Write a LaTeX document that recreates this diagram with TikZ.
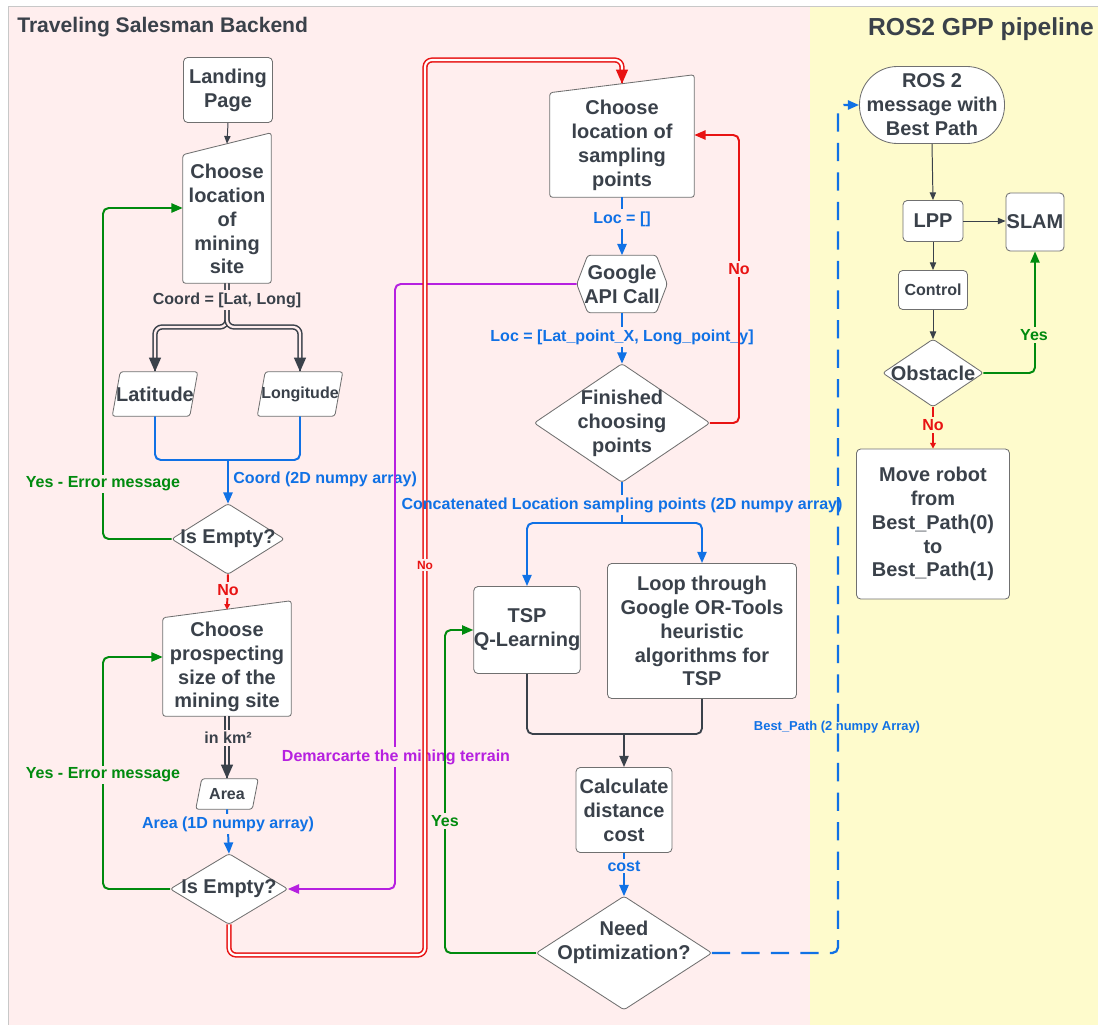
\documentclass[tikz,border=0pt]{standalone}
\usepackage{fontspec}
\setmainfont{Liberation Sans}
\usetikzlibrary{arrows.meta, calc, backgrounds}
\definecolor{cText}{RGB}{58,65,74}
\definecolor{cBorder}{RGB}{112,112,112}
\definecolor{cBlue}{RGB}{16,113,229}
\definecolor{cGreen}{RGB}{0,138,14}
\definecolor{cRed}{RGB}{232,19,19}
\definecolor{cPurple}{RGB}{182,32,224}
\definecolor{cPinkBg}{RGB}{255,238,238}
\definecolor{cYellowBg}{RGB}{254,251,204}
\definecolor{cFrame}{RGB}{200,200,200}
\newcommand{\fNode}{\fontsize{14.2}{17}\selectfont\bfseries}
\newcommand{\fLbl}{\fontsize{11.4}{13.7}\selectfont\bfseries}
\newcommand{\fSmall}{\fontsize{9.2}{11}\selectfont\bfseries}
\newcommand{\fTiny}{\fontsize{8.5}{10}\selectfont\bfseries}
\tikzset{
	box/.style     ={rectangle, draw=cBorder, fill=white, line width=0.6pt, rounded corners=3pt, inner sep=0pt, align=center, text=cText, font=\fNode},
	shp/.style     ={rectangle, inner sep=0pt, align=center, text=cText, font=\fNode},
	outline/.style ={draw=cBorder, fill=white, line width=0.6pt, rounded corners=2pt},
	lbl/.style     ={inner sep=1.5pt, font=\fLbl, fill=cPinkBg},
	ttl/.style     ={inner sep=0pt, text=cText, font=\fontsize{15}{18}\selectfont\bfseries},
	% connectors
	thinarr/.style ={draw=cText, line width=0.7pt, -{Triangle[length=5.5pt, width=4.5pt]}},
	line/.style    ={line width=1.4pt, rounded corners=4pt},
	arr/.style     ={line, -{Triangle[length=8pt, width=6.5pt]}},
	shortarr/.style={line, -{Triangle[length=4pt, width=4pt]}},
	dbl/.style     ={draw=cText, line width=1.1pt, double=cPinkBg, double distance=1.6pt, rounded corners=5pt, shorten >=7pt},
	dblred/.style  ={draw=cRed, line width=1.1pt, double=white, double distance=1.5pt, rounded corners=5pt, shorten >=7pt},
	head/.style    ={line width=1pt, -{Triangle[length=10pt, width=8.5pt]}},
}

\begin{document}
\begin{tikzpicture}[x=0.025cm, y=-0.025cm]
	\useasboundingbox (0,0) rectangle (1098,1025);
	\begin{scope}[on background layer]
		\fill[white] (0,0) rectangle (1098,1025);
		\fill[cPinkBg] (8,6) rectangle (810,1025);
		\fill[cYellowBg] (810,6) rectangle (1098,1025);
		\draw[cFrame, line width=0.6pt] (8,1025) -- (8,6) -- (1098,6);
	\end{scope}

	% titles
	\node[ttl, anchor=west] (ttlTsp) at (17,27) {Traveling Salesman Backend};
	\node[ttl, anchor=east, font=\fontsize{17.5}{21}\selectfont\bfseries] (ttlRos) at (1094,29) {ROS2 GPP pipeline};

	% mining site column
	\node[box, minimum width=2.225cm, minimum height=1.625cm] (landing) at (228,90) {Landing\\Page};
	\node[shp, minimum width=2.2cm, minimum height=3.2cm] (siteloc) at (227,219) {Choose\\location\\of\\mining\\site};
	\node[shp, minimum width=2.125cm, minimum height=1.1cm] (lat) at (155,394) {Latitude};
	\node[shp, font=\fLbl, minimum width=2.125cm, minimum height=1.1cm] (lon) at (300,394) {Longitude};
	\node[shp, minimum width=2.8cm, minimum height=1.75cm] (empty1) at (228,539) {Is Empty?};
	\node[shp, minimum width=3.2cm, minimum height=2.45cm] (sitesize) at (227,667) {Choose\\prospecting\\size of the\\mining site};
	\node[shp, font=\fLbl, minimum width=1.55cm, minimum height=0.75cm] (area) at (227,794) {Area};
	\node[shp, minimum width=2.925cm, minimum height=1.75cm] (empty2) at (229,889) {Is Empty?};

	% sampling column
	\node[shp, minimum width=3.6cm, minimum height=2.6cm] (samploc) at (622,145) {Choose\\location of\\sampling\\points};
	\node[shp, minimum width=2.25cm, minimum height=1.425cm] (api) at (622,284) {Google\\API Call};
	\node[shp, minimum width=4.375cm, minimum height=2.95cm] (finished) at (622,423) {Finished\\choosing\\points};
	\node[box, minimum width=2.575cm, minimum height=2.175cm] (tsp) at (527,630) {TSP\\Q-Learning};
	\node[box, minimum width=4.725cm, minimum height=3.375cm] (ortools) at (702,631) {Loop through\\Google OR-Tools\\heuristic\\algorithms for\\TSP};
	\node[box, minimum width=2.4cm, minimum height=2.125cm] (cost) at (624,810) {Calculate\\distance\\cost};
	\node[shp, text depth=0.65cm, minimum width=4.375cm, minimum height=2.825cm] (optim) at (624,953) {Need\\Optimization?};

	% ROS2 column
	\node[box, rounded corners=0.95cm, minimum width=3.625cm, minimum height=1.925cm] (rosmsg) at (932,105) {ROS 2\\message with\\Best Path};
	\node[box, minimum width=1.5cm, minimum height=1.025cm] (lpp) at (933,221) {LPP};
	\node[box, minimum width=1.45cm, minimum height=1.45cm] (slam) at (1035,222) {SLAM};
	\node[box, font=\fLbl, minimum width=1.725cm, minimum height=0.975cm] (control) at (933,290) {Control};
	\node[shp, minimum width=2.5cm, minimum height=1.675cm] (obstacle) at (933,373) {Obstacle};
	\node[box, minimum width=3.825cm, minimum height=3.75cm] (moverobot) at (933,524) {Move robot\\from\\Best\_Path(0)\\to\\Best\_Path(1)};

	% outlines of the special shapes
	\begin{scope}[on background layer]
		\foreach \n/\d in {siteloc/22, sitesize/17, samploc/18}
			\filldraw[outline] (\n.south west) -- (\n.north west) -- ($(\n.north east)+(0,-\d)$) -- (\n.south east) -- cycle;
		\foreach \n/\d in {lat/8, lon/8, area/6}
			\filldraw[outline] (\n.south west) -- ($(\n.north west)+(\d,0)$) -- (\n.north east) -- ($(\n.south east)+(-\d,0)$) -- cycle;
		\foreach \n in {empty1, empty2, finished, optim, obstacle}
			\filldraw[outline] (\n.north) -- (\n.east) -- (\n.south) -- (\n.west) -- cycle;
		\filldraw[outline] (api.west) -- ($(api.north west)+(11,0)$) -- ($(api.north east)+(-11,0)$) -- (api.east)
			-- ($(api.south east)+(-11,0)$) -- ($(api.south west)+(11,0)$) -- cycle;
	\end{scope}

	\coordinate (sitelocTop) at ($(siteloc.north)+(0,-11)$);
	\coordinate (sitelocIn) at ($(siteloc.west)+(0,-11)$);
	\coordinate (sitesizeTop) at ($(sitesize.north)+(0,-8)$);
	\coordinate (sitesizeIn) at ($(sitesize.west)+(0,-10)$);
	\coordinate (samplocTop) at ($(samploc.north)+(0,-9)$);
	\coordinate (samplocIn) at ($(samploc.east)+(0,-10)$);
	\coordinate (coordSplit) at (227,327);
	\coordinate (latlonJoin) at (228,460);
	\coordinate (concatSplit) at (622,523);
	\coordinate (mergeJoin) at (624,734);

	% mining site connectors
	\draw[thinarr] (landing.south) -- (sitelocTop);
	\draw[dbl] (siteloc.south) -- (coordSplit) -| (lat.north);
	\draw[dbl] (siteloc.south) -- (coordSplit) -| (lon.north);
	\draw[head, cText] ($(lat.north)+(0,-1)$) -- (lat.north);
	\draw[head, cText] ($(lon.north)+(0,-1)$) -- (lon.north);
	\node[lbl, text=cText] (coordLbl) at (227,300) {Coord = [Lat, Long]};
	\draw[line, cBlue] (lat.south) |- (latlonJoin) -| (lon.south);
	\draw[arr, cBlue] (latlonJoin) -- (empty1.north);
	\node[lbl, text=cBlue, fill=none, anchor=west] (coordArr) at (231,479) {Coord (2D numpy array)};
	\draw[arr, cGreen] (empty1.west) -| (103,208) -- (sitelocIn);
	\node[lbl, text=cGreen] (yesErr1) at (103,484) {Yes - Error message};
	\draw[shortarr, cRed] (empty1.south) -- (sitesizeTop);
	\node[lbl, text=cRed] (no1) at (228,590) {No};
	\draw[dbl] (sitesize.south) -- (area.north);
	\draw[head, cText] ($(area.north)+(0,-1)$) -- (area.north);
	\node[lbl, text=cText] (kmLbl) at (228,738) {in km²};
	\draw[arr, cBlue] (area.south) -- (empty2.north);
	\node[lbl, text=cBlue] (areaLbl) at (228,824) {Area (1D numpy array)};
	\draw[arr, cGreen] (empty2.west) -| (103,657) -- (sitesizeIn);
	\node[lbl, text=cGreen] (yesErr2) at (103,775) {Yes - Error message};
	\draw[arr, cPurple] (api.west) -| (395,889) -- (empty2.east);
	\node[lbl, text=cPurple] (demLbl) at (396,757) {Demarcarte the mining terrain};
	\draw[dblred] (empty2.south) |- (425,955) -- (425,60) -| (samplocTop);
	\draw[head, cRed] ($(samplocTop)+(0,-1)$) -- (samplocTop);
	\node[lbl, text=cRed, font=\fTiny, inner sep=1pt] (no2) at (425,565) {No};

	% sampling connectors
	\draw[arr, cBlue] (samploc.south) -- (api.north);
	\node[lbl, text=cBlue] (locEmpty) at (622,219) {Loc = []};
	\draw[arr, cBlue] (api.south) -- (finished.north);
	\node[lbl, text=cBlue] (locPts) at (622,337) {Loc = [Lat\_point\_X, Long\_point\_y]};
	\draw[arr, cRed] (finished.east) -| (739,135) -- (samplocIn);
	\node[lbl, text=cRed] (no3) at (739,269) {No};
	\node[lbl, text=cBlue, fill=none] (concatLbl) at (622,505) {Concatenated Location sampling points (2D numpy array)};
	\draw[line, cBlue] (finished.south) -- (concatLbl.north);
	\draw[line, cBlue] (concatLbl.south) -- (concatSplit);
	\draw[arr, cBlue] (concatSplit) -| (tsp.north);
	\draw[arr, cBlue] (concatSplit) -| (ortools.north);
	\draw[line, cText, line width=1.3pt] (tsp.south) |- (mergeJoin) -| (ortools.south);
	\draw[arr, cText, line width=1.3pt] (mergeJoin) -- (cost.north);
	\draw[arr, cBlue] (cost.south) -- (optim.north);
	\node[lbl, text=cBlue] (costLbl) at (624,866) {cost};
	\draw[arr, cGreen] (optim.west) -| (445,630) -- (tsp.west);
	\node[lbl, text=cGreen] (yesOpt) at (445,821) {Yes};
	\draw[arr, cBlue, line width=1.6pt, dash pattern=on 13pt off 8pt] (optim.east) -| (838,105) -- (rosmsg.west);
	\node[lbl, text=cBlue, fill=none, font=\fSmall] (bestLbl) at (837,727) {Best\_Path (2 numpy Array)};

	% ROS2 connectors
	\draw[thinarr] (rosmsg.south) -- (lpp.north);
	\draw[thinarr] (lpp.east) -- (lpp.east -| slam.west);
	\draw[thinarr] (lpp.south) -- (control.north);
	\draw[thinarr] (control.south) -- (obstacle.north);
	\draw[arr, cGreen] (obstacle.east) -| (slam.south);
	\node[lbl, text=cGreen, fill=cYellowBg] (yesObst) at (1034,335) {Yes};
	\draw[shortarr, cRed] (obstacle.south) -- (moverobot.north);
	\node[lbl, text=cRed, fill=cYellowBg] (noObst) at (933,425) {No};
\end{tikzpicture}
\end{document}
